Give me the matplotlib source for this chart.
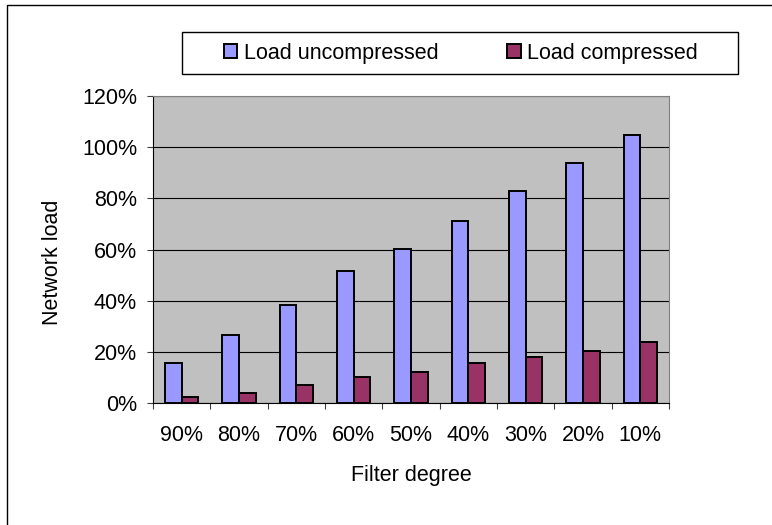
import numpy as np
import matplotlib
matplotlib.use('Agg')
import matplotlib.pyplot as plt
from matplotlib.patches import Rectangle
from matplotlib.ticker import FuncFormatter

plt.rcParams['font.family'] = ['Liberation Sans', 'DejaVu Sans']

categories = ['90%', '80%', '70%', '60%', '50%', '40%', '30%', '20%', '10%']
load_uncompressed = [15.5, 26.6, 38.3, 51.6, 60.1, 71.1, 82.9, 93.7, 104.6]
load_compressed = [2.5, 3.8, 7.2, 10.2, 12.2, 15.5, 17.9, 20.3, 24.0]

W, H = 772, 525
fs = 15.5
fig = plt.figure(figsize=(W / 100, H / 100), dpi=100)

def px(x, y, w=0, h=0):
    # pixel box (top-left origin) -> figure fraction
    return [x / W, 1 - (y + h) / H, w / W, h / H]

# outer chart frame, right/bottom edges fall outside the picture
fig.patches.append(Rectangle((7 / W, -0.2), 1.2, 1 - 5 / H + 0.2,
                             transform=fig.transFigure, fill=False,
                             edgecolor='black', lw=1.0))

ax = fig.add_axes(px(153, 96, 516, 307))
ax.set_facecolor('#C0C0C0')

x = np.arange(len(categories))
bw = 0.29
ax.bar(x - bw / 2, np.array(load_uncompressed) / 100, bw, color='#9999FF',
       edgecolor='black', lw=1.4, label='Load uncompressed', zorder=3)
ax.bar(x + bw / 2, np.array(load_compressed) / 100, bw, color='#993366',
       edgecolor='black', lw=1.4, label='Load compressed', zorder=3)

ax.set_xlim(-0.5, len(categories) - 0.5)
ax.set_ylim(0, 1.2)
ax.set_yticks(np.arange(0, 1.21, 0.2))
ax.yaxis.set_major_formatter(FuncFormatter(lambda v, p: '%d%%' % round(v * 100)))
ax.grid(axis='y', color='black', lw=0.8, zorder=1)

ax.set_xticks(np.arange(-0.5, len(categories), 1.0))
ax.set_xticklabels([])
ax.set_xticks(x, minor=True)
ax.set_xticklabels(categories, minor=True)
ax.tick_params(axis='x', which='minor', length=0, pad=16, labelsize=fs)
ax.tick_params(axis='x', which='major', length=4, color='#404040', direction='out')
ax.tick_params(axis='y', length=4.5, color='#404040', pad=7, labelsize=fs)

for s in ['top', 'right']:
    ax.spines[s].set_color('#808080')
for s in ['left', 'bottom']:
    ax.spines[s].set_color('black')

fig.text(411 / W, 1 - 476 / H, 'Filter degree', ha='center', va='center', fontsize=fs)
fig.text(53 / W, 1 - 262 / H, 'Network load', ha='center', va='center',
         rotation=90, fontsize=fs)

# legend box
fig.patches.append(Rectangle((182 / W, 1 - 74 / H), 556 / W, 42 / H,
                             transform=fig.transFigure, facecolor='white',
                             edgecolor='black', lw=1.0))
leg = fig.legend(loc='center', bbox_to_anchor=(461 / W, 1 - 53 / H), ncol=2,
                 frameon=False, fontsize=fs, handlelength=0.62, handleheight=0.62,
                 handletextpad=0.3, columnspacing=3.2)

fig.savefig('out.png', dpi=100)
